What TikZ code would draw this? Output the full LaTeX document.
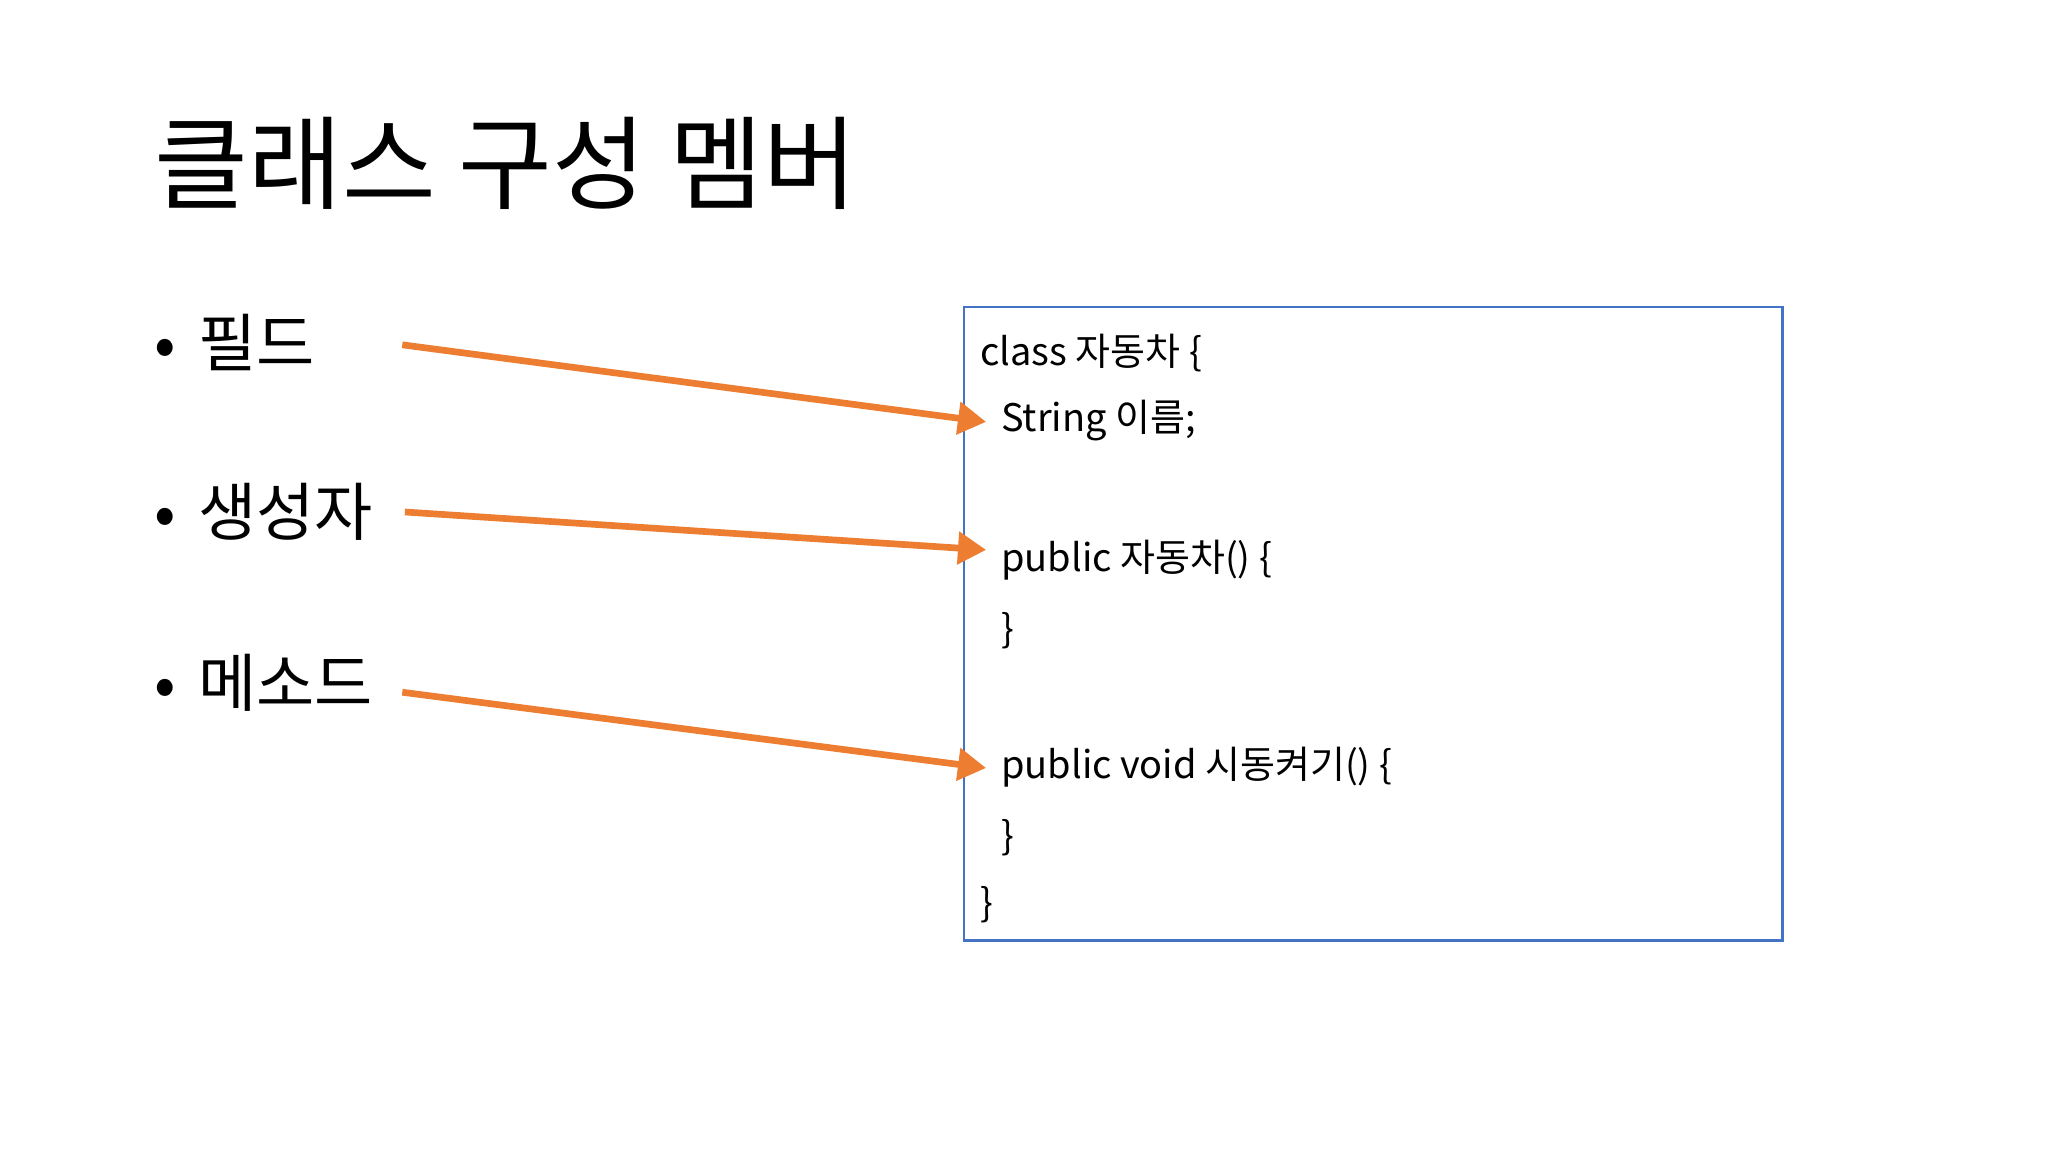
\documentclass[tikz,border=0pt]{standalone}
\usepackage{fontspec}
\setmainfont{Noto Sans CJK KR}
\usetikzlibrary{arrows.meta}
\definecolor{boxblue}{HTML}{4472C4}
\definecolor{arr}{HTML}{ED7D31}
\begin{document}
\begin{tikzpicture}[x=0.01306cm,y=-0.01306cm,
  code/.style={anchor=west,inner sep=0pt,font=\fontsize{10.8}{12}\selectfont},
  bul/.style={anchor=west,inner sep=0pt,font=\fontsize{18}{20}\selectfont},
  conn/.style={arr,line width=1.9pt,-{Triangle[length=8pt,width=9pt]}}]
\useasboundingbox (0,0) rectangle (1568,882);
\node[anchor=west,inner sep=0pt,font=\fontsize{29}{34}\selectfont] (title) at (118,125) {클래스 구성 멤버};
\node[bul] (b1) at (118,262) {•\hspace{0.35em}필드};
\node[bul] (b2) at (118,392) {•\hspace{0.35em}생성자};
\node[bul] (b3) at (118,523) {•\hspace{0.35em}메소드};
\draw[boxblue,line width=0.8pt] (738,235) rectangle (1365,720);
\node[code] (c1) at (750,270) {class 자동차 \{};
\node[code] (c2) at (766,322) {String 이름;};
\node[code] (c3) at (766,429) {public 자동차() \{};
\node[code] (c4) at (766,483) {\}};
\node[code] (c5) at (766,587) {public void 시동켜기() \{};
\node[code] (c6) at (766,641) {\}};
\node[code] (c7) at (750,693) {\}};
\coordinate (s1) at (308,264);
\coordinate (s2) at (310,392);
\coordinate (s3) at (308,530);
\draw[conn] (s1) -- ([shift={(-11,1)}]c2.west);
\draw[conn] (s2) -- ([shift={(-11,-8)}]c3.west);
\draw[conn] (s3) -- ([shift={(-11,1)}]c5.west);
\end{tikzpicture}
\end{document}
